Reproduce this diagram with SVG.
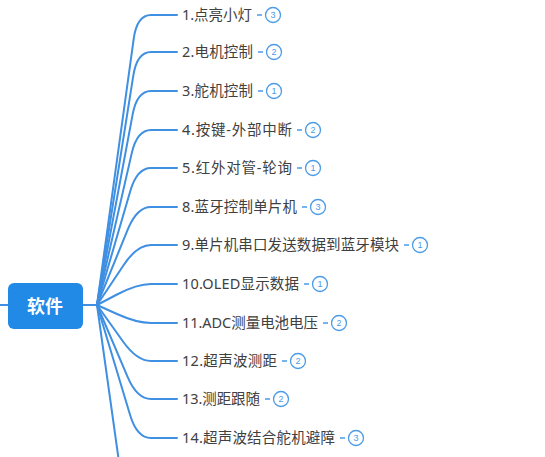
<svg xmlns="http://www.w3.org/2000/svg" width="545" height="457" viewBox="0 0 545 457">
<style>
.ln{fill:none;stroke:#3f8fe2;stroke-width:2;stroke-linecap:round}
.lbl{font-family:"Noto Sans","Noto Sans CJK SC",sans-serif;font-size:14.5px;fill:#404040}
.dash{stroke:#4a9be8;stroke-width:1.5}
.bdg{fill:#fff;stroke:#4a9be8;stroke-width:1.3}
.num{font-family:"Liberation Sans",sans-serif;font-size:9px;fill:#4a9be8;text-anchor:middle}
.root{fill:#2189e6}
.rt{font-family:"Noto Sans CJK SC",sans-serif;font-size:18px;font-weight:bold;fill:#fff;text-anchor:middle}
</style>
<rect width="545" height="457" fill="#fff"/>
<g id="connectors">
<path class="ln" d="M0,305 L8,305"/>
<path class="ln" d="M83,305 L97,305"/>
<path class="ln" d="M97,305 L133.7,38.8 Q137,15 151,15 L177,15"/>
<path class="ln" d="M97,305 L133.3,75.7 Q137,52 151,52 L177,52"/>
<path class="ln" d="M97,305 L132.6,114.6 Q137,91 151,91 L177,91"/>
<path class="ln" d="M97,305 L131.7,153.4 Q137,130 151,130 L177,130"/>
<path class="ln" d="M97,305 L130.3,191 Q137,168 151,168 L177,168"/>
<path class="ln" d="M97,305 L127.9,229.2 Q137,207 151,207 L177,207"/>
<path class="ln" d="M97,305 L123.7,265 Q137,245 151,245 L177,245"/>
<path class="ln" d="M97,305 L117,294.5 Q137,284 151,284 L177,284"/>
<path class="ln" d="M97,305 L117,314 Q137,323 151,323 L177,323"/>
<path class="ln" d="M97,305 L123,341.5 Q137,361 151,361 L177,361"/>
<path class="ln" d="M97,305 L127.6,376.9 Q137,399 151,399 L177,399"/>
<path class="ln" d="M97,305 L130.1,415 Q137,438 151,438 L177,438"/>
<path class="ln" d="M97,305 L133.6,566.2 Q137,590 151,590 L177,590"/>
</g>
<g id="root"><rect class="root" x="8" y="283" width="75" height="46" rx="6"/><text class="rt" x="45" y="312.5">软件</text></g>
<g id="n1"><text class="lbl" x="182" y="20" textLength="70">1.点亮小灯</text><line class="dash" x1="257" y1="15" x2="262" y2="15"/><circle class="bdg" cx="273" cy="15" r="7.5"/><text class="num" x="273" y="18.2">3</text></g>
<g id="n2"><text class="lbl" x="182" y="57" textLength="71">2.电机控制</text><line class="dash" x1="258" y1="52" x2="263" y2="52"/><circle class="bdg" cx="274" cy="52" r="7.5"/><text class="num" x="274" y="55.2">2</text></g>
<g id="n3"><text class="lbl" x="182" y="96" textLength="71">3.舵机控制</text><line class="dash" x1="258" y1="91" x2="263" y2="91"/><circle class="bdg" cx="274" cy="91" r="7.5"/><text class="num" x="274" y="94.2">1</text></g>
<g id="n4"><text class="lbl" x="182" y="135" textLength="110">4.按键-外部中断</text><line class="dash" x1="297" y1="130" x2="302" y2="130"/><circle class="bdg" cx="313" cy="130" r="7.5"/><text class="num" x="313" y="133.2">2</text></g>
<g id="n5"><text class="lbl" x="182" y="173" textLength="110">5.红外对管-轮询</text><line class="dash" x1="297" y1="168" x2="302" y2="168"/><circle class="bdg" cx="313" cy="168" r="7.5"/><text class="num" x="313" y="171.2">1</text></g>
<g id="n8"><text class="lbl" x="182" y="212" textLength="115">8.蓝牙控制单片机</text><line class="dash" x1="302" y1="207" x2="307" y2="207"/><circle class="bdg" cx="318" cy="207" r="7.5"/><text class="num" x="318" y="210.2">3</text></g>
<g id="n9"><text class="lbl" x="182" y="250" textLength="217">9.单片机串口发送数据到蓝牙模块</text><line class="dash" x1="404" y1="245" x2="409" y2="245"/><circle class="bdg" cx="420" cy="245" r="7.5"/><text class="num" x="420" y="248.2">1</text></g>
<g id="n10"><text class="lbl" x="182" y="289" textLength="117">10.OLED显示数据</text><line class="dash" x1="304" y1="284" x2="309" y2="284"/><circle class="bdg" cx="320" cy="284" r="7.5"/><text class="num" x="320" y="287.2">1</text></g>
<g id="n11"><text class="lbl" x="182" y="328" textLength="136">11.ADC测量电池电压</text><line class="dash" x1="323" y1="323" x2="328" y2="323"/><circle class="bdg" cx="339" cy="323" r="7.5"/><text class="num" x="339" y="326.2">2</text></g>
<g id="n12"><text class="lbl" x="182" y="366" textLength="95">12.超声波测距</text><line class="dash" x1="282" y1="361" x2="287" y2="361"/><circle class="bdg" cx="298" cy="361" r="7.5"/><text class="num" x="298" y="364.2">2</text></g>
<g id="n13"><text class="lbl" x="182" y="404" textLength="78">13.测距跟随</text><line class="dash" x1="265" y1="399" x2="270" y2="399"/><circle class="bdg" cx="281" cy="399" r="7.5"/><text class="num" x="281" y="402.2">2</text></g>
<g id="n14"><text class="lbl" x="182" y="443" textLength="153">14.超声波结合舵机避障</text><line class="dash" x1="340" y1="438" x2="345" y2="438"/><circle class="bdg" cx="356" cy="438" r="7.5"/><text class="num" x="356" y="441.2">3</text></g>
</svg>
